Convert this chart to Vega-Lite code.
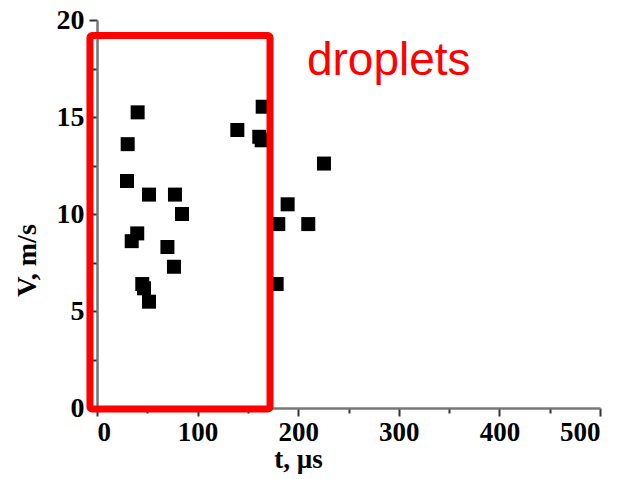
{
  "$schema": "https://vega.github.io/schema/vega-lite/v6.json",
  "width": 503,
  "height": 388,
  "autosize": {"type": "none"},
  "padding": {"left": 97, "top": 20, "right": 28, "bottom": 71},
  "background": "white",
  "config": {"view": {"stroke": null}},
  "datasets": {
    "pts": [
      {"t": 40.4, "v": 15.24},
      {"t": 30.5, "v": 13.6},
      {"t": 29.8, "v": 11.7},
      {"t": 51.7, "v": 11.0},
      {"t": 77.5, "v": 11.0},
      {"t": 84.5, "v": 10.0},
      {"t": 40.0, "v": 9.0},
      {"t": 34.5, "v": 8.6},
      {"t": 70.0, "v": 8.3},
      {"t": 76.5, "v": 7.28},
      {"t": 45.0, "v": 6.39},
      {"t": 46.7, "v": 6.17},
      {"t": 51.7, "v": 5.48},
      {"t": 139.5, "v": 14.33},
      {"t": 164.7, "v": 15.53},
      {"t": 161.3, "v": 13.98},
      {"t": 163.7, "v": 13.8},
      {"t": 225.6, "v": 12.6},
      {"t": 189.5, "v": 10.5},
      {"t": 180.2, "v": 9.48},
      {"t": 210.0, "v": 9.48},
      {"t": 178.6, "v": 6.39}
    ],
    "box": [{"t1": -7, "t2": 172, "v1": -0.05, "v2": 19.2}],
    "label": [{"t": 290, "v": 17.16, "text": "droplets"}]
  },
  "layer": [
    {
      "data": {"name": "pts"},
      "mark": {"type": "point", "shape": "square", "filled": true, "color": "black", "size": 196, "opacity": 1},
      "encoding": {
        "x": {
          "field": "t", "type": "quantitative",
          "scale": {"domain": [0, 500], "nice": false},
          "axis": {
            "title": "t, µs",
            "values": [0, 50, 100, 150, 200, 250, 300, 350, 400, 450, 500],
            "labelExpr": "datum.value % 100 === 0 ? datum.label : ''",
            "labelOverlap": false,
            "labelFont": "Liberation Serif", "labelFontWeight": "bold", "labelFontSize": 27, "labelColor": "black",
            "labelPadding": 3,
            "tickSize": {"condition": {"test": "datum.value % 100 === 0", "value": 8}, "value": 5},
            "tickColor": "#333", "tickWidth": 2,
            "domainColor": "#777", "domainWidth": 2.5,
            "grid": false,
            "titleFont": "Liberation Serif", "titleFontWeight": "bold", "titleFontSize": 27, "titleColor": "black",
            "titleX": 201, "titleY": 59, "titleBaseline": "alphabetic", "titleAlign": "center"
          }
        },
        "y": {
          "field": "v", "type": "quantitative",
          "scale": {"domain": [0, 20], "nice": false},
          "axis": {
            "title": "V, m/s",
            "values": [0, 2.5, 5, 7.5, 10, 12.5, 15, 17.5, 20],
            "labelExpr": "datum.value % 5 === 0 ? datum.label : ''",
            "labelOverlap": false,
            "labelFont": "Liberation Serif", "labelFontWeight": "bold", "labelFontSize": 28, "labelColor": "black",
            "labelPadding": 5,
            "tickSize": {"condition": {"test": "datum.value % 5 === 0", "value": 8}, "value": 5},
            "tickColor": "#333", "tickWidth": 2,
            "domainColor": "#777", "domainWidth": 2.5,
            "grid": false,
            "titleFont": "Liberation Serif", "titleFontWeight": "bold", "titleFontSize": 28, "titleColor": "black",
            "titleX": -70, "titleY": 240, "titleBaseline": "middle", "titleAlign": "center", "titleAngle": -90
          }
        }
      }
    },
    {
      "data": {"name": "box"},
      "mark": {"type": "rect", "fill": null, "fillOpacity": 0, "stroke": "#ff0000", "strokeWidth": 7, "cornerRadius": 2},
      "encoding": {
        "x": {"field": "t1", "type": "quantitative"},
        "x2": {"field": "t2"},
        "y": {"field": "v1", "type": "quantitative"},
        "y2": {"field": "v2"}
      }
    },
    {
      "data": {"name": "label"},
      "mark": {"type": "text", "font": "Liberation Sans", "fontSize": 46, "color": "#ff0000", "align": "center", "baseline": "alphabetic"},
      "encoding": {
        "x": {"field": "t", "type": "quantitative"},
        "y": {"field": "v", "type": "quantitative"},
        "text": {"field": "text"}
      }
    }
  ]
}
